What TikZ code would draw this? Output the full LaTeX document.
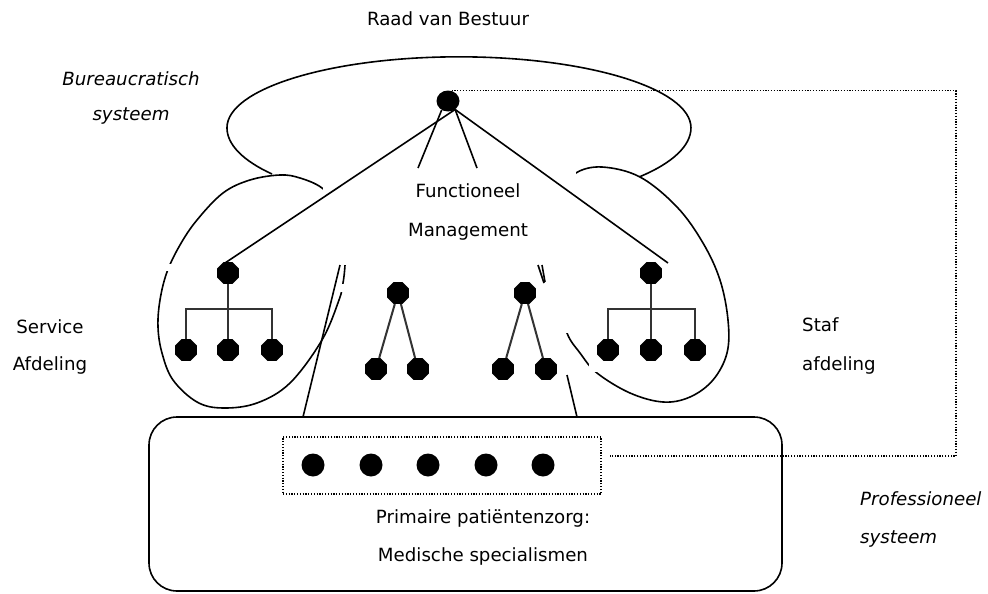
\documentclass[tikz,border=0pt]{standalone}
\usepackage{fontspec}
\setmainfont{DejaVu Sans}
\usetikzlibrary{shapes.geometric}
\tikzset{
  outline/.style={line width=1.6pt, black},
  hier/.style={line width=2pt, black!80},
  octnode/.style={regular polygon, regular polygon sides=8, fill=black, draw=none, minimum size=23.5pt, inner sep=0pt},
  dotnode/.style={circle, fill=black, draw=none, minimum size=23pt, inner sep=0pt},
  dottedline/.style={line width=1.3pt, dash pattern=on 1.2pt off 1.6pt},
  maskbox/.style={fill=white, draw=none},
  lbl/.style={font=\fontsize{18.2}{22}\selectfont, inner sep=0pt},
  ilbl/.style={font=\fontsize{18.2}{22}\selectfont\itshape, inner sep=0pt},
}
\begin{document}
\begin{tikzpicture}[x=1pt, y=-1pt]
\useasboundingbox[fill=white] (0,0) rectangle (988,594);

% top ellipse (strategic apex)
\draw[outline] (272,174) arc[start angle=143.7, end angle=180, x radius=232, y radius=78]
  arc[start angle=180, end angle=360, x radius=232, y radius=71]
  arc[start angle=0, end angle=38.8, x radius=232, y radius=78];

% left blob
\draw[outline] plot[smooth cycle, tension=0.6] coordinates {
 (250,180) (280,175) (300,178) (322,188) (338,207) (346,235) (345,265) (343,283)
 (339,300) (322,340) (290,383) (257,403) (223,408) (197,402) (173,380) (162,353)
 (158,327) (160,300) (167,272) (180,245) (197,220) (223,193)};
% right blob
\draw[outline] plot[smooth cycle, tension=0.6] coordinates {
 (576,173) (602,167) (640,177) (677,207) (703,243) (720,280) (728,320) (727,353)
 (713,380) (690,397) (663,402) (630,393) (597,373) (580,353) (567,333) (560,300)
 (558,260) (561,220) (567,190)};

% hidden parts
\fill[maskbox] (323,180) rectangle (360,264.5);
\fill[maskbox] (339.5,284) rectangle (350,292);
\fill[maskbox] (163,264) rectangle (180,271);
\fill[maskbox] (540,160) rectangle (575.5,333);
\fill[maskbox] (589,363.5) rectangle (601,372);

% operating core
\node[draw, outline, rounded corners=28pt, minimum width=633pt, minimum height=174pt, inner sep=0pt] (opbox) at (465.5,504) {};
\node[draw, dottedline, minimum width=318pt, minimum height=57pt, inner sep=0pt] (core) at (442,465.5) {};
\foreach \i/\x in {1/313,2/371,3/428,4/486,5/543}
  \node[dotnode] (d\i) at (\x,465) {};

% middle line shape
\coordinate (dLtop) at (340,265);
\coordinate (dLbot) at (303,417);
\coordinate (dRtop) at (538,265);
\coordinate (dRmid) at (544,283);
\coordinate (dRlow) at (567,375);
\coordinate (dRbot) at (577,417);
\coordinate (mkA) at (542,265);
\coordinate (mkB) at (545,282);
\draw[outline] (dLbot) -- (dLtop);
\draw[outline] (dRtop) -- (dRmid);
\draw[outline] (dRlow) -- (dRbot);
\draw[outline] (mkA) -- (mkB);

% apex
\node[ellipse, fill=black, minimum width=23pt, minimum height=21pt, inner sep=0pt] (apex) at (448,101) {};
\coordinate (svcEnd) at (225,263);
\coordinate (stafEnd) at (668,263);
\coordinate (fmL) at (418,168);
\coordinate (fmR) at (477,168);
\draw[outline] (apex.-50) -- (svcEnd);
\draw[outline] (apex.-50) -- (stafEnd);
\draw[outline] (apex.-125) -- (fmL);
\draw[outline] (apex.-50) -- (fmR);

% dotted link
\coordinate (dotB) at (956,456);
\coordinate (dotEnd) at (610,456);
\draw[dottedline] (apex.70) -| (dotB) -- (dotEnd);

% service hierarchy
\node[octnode] (s0) at (228,273) {};
\node[octnode] (s1) at (186,350) {};
\node[octnode] (s2) at (228,350) {};
\node[octnode] (s3) at (272,350) {};
\coordinate (sbar) at (228,309);
\draw[hier] (s0) -- (s2);
\draw[hier] (s1.north) |- (sbar) -| (s3.north);

% staf hierarchy
\node[octnode] (t0) at (651,273) {};
\node[octnode] (t1) at (608,350) {};
\node[octnode] (t2) at (651,350) {};
\node[octnode] (t3) at (695,350) {};
\coordinate (tbar) at (651,309);
\draw[hier] (t0) -- (t2);
\draw[hier] (t1.north) |- (tbar) -| (t3.north);

% middle hierarchies
\node[octnode] (m0) at (398,293) {};
\node[octnode] (m1) at (376,369) {};
\node[octnode] (m2) at (418,369) {};
\draw[hier] (m0) -- (m1);
\draw[hier] (m0) -- (m2);
\node[octnode] (n0) at (525,293) {};
\node[octnode] (n1) at (503,369) {};
\node[octnode] (n2) at (546,369) {};
\draw[hier] (n0) -- (n1);
\draw[hier] (n0) -- (n2);

% labels
\node[lbl, anchor=base] (rvb) at (448,26) {Raad van Bestuur};
\node[ilbl, anchor=base] (bur1) at (131,85) {Bureaucratisch};
\node[ilbl, anchor=base] (bur2) at (131,120) {systeem};
\node[lbl, anchor=base] (fm1) at (468,197) {Functioneel};
\node[lbl, anchor=base] (fm2) at (468,236) {Management};
\node[lbl, anchor=base] (sv1) at (50,333) {Service};
\node[lbl, anchor=base] (sv2) at (50,370) {Afdeling};
\node[lbl, anchor=base west] (st1) at (802,331) {Staf};
\node[lbl, anchor=base west] (st2) at (802,370) {afdeling};
\node[ilbl, anchor=base west] (pr1) at (860,505) {Professioneel};
\node[ilbl, anchor=base west] (pr2) at (860,543) {systeem};
\node[lbl, anchor=base] (pz1) at (483,523) {Primaire patiëntenzorg:};
\node[lbl, anchor=base] (pz2) at (483,561) {Medische specialismen};
\end{tikzpicture}
\end{document}
